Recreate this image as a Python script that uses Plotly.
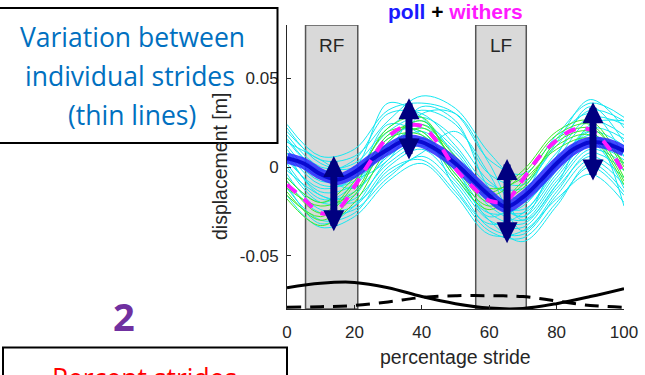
import plotly.graph_objects as go

# ---------------- data ----------------
x_mean = [0, 5, 10, 15, 20, 25, 30, 35, 40, 45, 50, 55, 60, 65, 70, 75, 80, 85, 90, 95, 100]
poll_mean = [0.005, 0.002, -0.004, -0.007, -0.003, 0.004, 0.010, 0.015, 0.014, 0.009, 0.002,
             -0.007, -0.016, -0.0225, -0.017, -0.008, 0.002, 0.010, 0.014, 0.013, 0.009]
withers_mean = [-0.010, -0.018, -0.026, -0.024, -0.011, 0.004, 0.017, 0.023, 0.023, 0.013, -0.001,
                -0.011, -0.019, -0.019, -0.007, 0.006, 0.015, 0.021, 0.021, 0.012, -0.004]

x_strides = [0, 10, 20, 30, 40, 50, 60, 70, 80, 90, 100]
poll_strides = [
    [0.024, 0.006, 0.010, 0.032, 0.036, 0.030, 0.004, -0.004, 0.018, 0.036, 0.028],
    [0.020, 0.004, 0.006, 0.026, 0.040, 0.033, 0.008, -0.008, 0.012, 0.032, 0.026],
    [0.018, 0.000, 0.002, 0.022, 0.032, 0.024, -0.004, -0.010, 0.014, 0.038, 0.022],
    [0.015, -0.002, 0.004, 0.030, 0.030, 0.012, -0.010, -0.012, 0.008, 0.028, 0.024],
    [0.012, -0.006, -0.002, 0.020, 0.028, 0.016, -0.008, -0.018, 0.004, 0.026, 0.018],
    [0.010, -0.008, -0.004, 0.016, 0.024, 0.010, -0.014, -0.020, 0.000, 0.022, 0.016],
    [0.008, -0.010, -0.008, 0.014, 0.026, 0.006, -0.018, -0.024, -0.002, 0.020, 0.012],
    [0.006, -0.014, -0.010, 0.010, 0.020, 0.004, -0.020, -0.026, -0.004, 0.016, 0.010],
    [0.004, -0.012, -0.006, 0.024, 0.018, -0.006, -0.026, -0.022, 0.002, 0.018, 0.006],
    [0.002, -0.018, -0.014, 0.006, 0.016, 0.002, -0.022, -0.030, -0.008, 0.012, 0.004],
    [0.000, -0.020, -0.018, 0.002, 0.012, -0.002, -0.026, -0.032, -0.010, 0.010, 0.002],
    [-0.002, -0.016, -0.020, -0.004, 0.008, 0.020, -0.004, -0.036, -0.014, 0.008, -0.002],
    [-0.004, -0.024, -0.022, 0.000, 0.010, -0.008, -0.030, -0.034, -0.012, 0.006, -0.006],
    [-0.008, -0.026, -0.024, -0.006, 0.006, -0.010, -0.034, -0.038, -0.016, 0.004, -0.010],
    [-0.012, -0.030, -0.026, -0.002, 0.004, -0.014, -0.036, -0.040, -0.020, 0.000, -0.016],
    [-0.016, -0.034, -0.028, -0.008, 0.002, -0.016, -0.038, -0.036, -0.018, -0.004, -0.020],
    [0.022, 0.002, 0.000, 0.036, 0.028, 0.000, -0.028, -0.016, 0.016, 0.030, 0.006],
    [0.014, 0.004, -0.006, 0.004, 0.030, 0.030, 0.002, -0.030, -0.010, 0.024, 0.026],
    [0.016, -0.004, -0.012, 0.008, 0.034, 0.026, -0.012, -0.028, 0.006, 0.034, 0.014],
    [-0.006, -0.020, -0.010, 0.012, 0.022, 0.008, -0.016, -0.028, -0.006, 0.014, -0.012],
    [0.008, -0.016, -0.016, 0.018, 0.020, -0.012, -0.032, -0.026, 0.000, 0.020, -0.022],
    [-0.010, -0.032, -0.022, 0.004, 0.014, -0.004, -0.030, -0.042, -0.022, 0.002, -0.014],
]
withers_strides = [
    [-0.014, -0.030, -0.016, 0.014, 0.026, 0.002, -0.016, -0.004, 0.018, 0.024, -0.002],
    [-0.006, -0.020, -0.006, 0.020, 0.020, -0.004, -0.022, -0.010, 0.012, 0.018, -0.008],
    [-0.018, -0.033, -0.020, 0.010, 0.022, 0.004, -0.014, -0.002, 0.020, 0.026, 0.000],
    [-0.008, -0.026, -0.008, 0.022, 0.028, 0.000, -0.020, -0.012, 0.014, 0.020, -0.006],
    [-0.012, -0.022, -0.014, 0.016, 0.018, -0.006, -0.024, -0.008, 0.010, 0.016, -0.010],
    [-0.016, -0.028, -0.010, 0.018, 0.024, 0.006, -0.012, -0.006, 0.016, 0.022, 0.002],
]

x_bottom = [0, 10, 20, 30, 40, 50, 60, 70, 80, 90, 100]
bottom_solid = [-0.068, -0.0655, -0.065, -0.068, -0.073, -0.077, -0.0795, -0.0797, -0.077, -0.073, -0.0685]
bottom_dashed = [-0.079, -0.0787, -0.078, -0.076, -0.0735, -0.0725, -0.0725, -0.073, -0.0755, -0.078, -0.079]

stance_labels = ["RF", "LF"]
stance_start = [5.5, 56]
stance_end = [21, 71]

arrow_x = [13.9, 36.2, 65.3, 90.8]
arrow_low = [-0.037, 0.0034, -0.0438, -0.0084]
arrow_high = [0.0062, 0.0388, 0.0045, 0.0365]

x_ticks = [0, 20, 40, 60, 80, 100]
y_ticks = [-0.05, 0, 0.05]
y_ticklabels = ["-0.05", "0", "0.05"]

# ---------------- layout geometry ----------------
W, H = 645, 375
L, R, T, B = 287, 21, 25, 66
PW, PH = W - L - R, H - T - B


def px2x(px):
    return (px - L) / PW


def py2y(py):
    return (H - B - py) / PH


fig = go.Figure()

for ys in poll_strides:
    fig.add_trace(go.Scatter(x=x_strides, y=ys, mode="lines",
                             line=dict(color="rgb(20,232,242)", width=1, shape="spline", smoothing=1.0),
                             hoverinfo="skip", showlegend=False))
for ys in withers_strides:
    fig.add_trace(go.Scatter(x=x_strides, y=ys, mode="lines",
                             line=dict(color="rgb(60,235,40)", width=1, shape="spline", smoothing=1.0),
                             hoverinfo="skip", showlegend=False))

fig.add_trace(go.Scatter(x=x_mean, y=poll_mean, mode="lines",
                         line=dict(color="rgba(40,40,255,0.85)", width=11, shape="spline"),
                         showlegend=False))
fig.add_trace(go.Scatter(x=x_mean, y=poll_mean, mode="lines",
                         line=dict(color="#0a0ad0", width=4, shape="spline"),
                         showlegend=False))
fig.add_trace(go.Scatter(x=x_mean, y=withers_mean, mode="lines",
                         line=dict(color="#ff1aff", width=4, shape="spline", dash="12px,10px"),
                         showlegend=False))

fig.add_trace(go.Scatter(x=x_bottom, y=bottom_solid, mode="lines",
                         line=dict(color="black", width=3, shape="spline"), showlegend=False))
fig.add_trace(go.Scatter(x=x_bottom, y=bottom_dashed, mode="lines",
                         line=dict(color="black", width=3, shape="spline", dash="14px,9px"),
                         showlegend=False))

shapes = []
for s0, s1 in zip(stance_start, stance_end):
    shapes.append(dict(type="rect", xref="x", yref="y", x0=s0, x1=s1, y0=-0.08, y1=0.08,
                       fillcolor="#d9d9d9", line=dict(color="#555555", width=1.5), layer="below"))
# text boxes
shapes.append(dict(type="rect", xref="paper", yref="paper",
                   x0=px2x(-5), x1=px2x(277.5), y0=py2y(143), y1=py2y(8),
                   line=dict(color="black", width=2), fillcolor="rgba(0,0,0,0)"))
shapes.append(dict(type="rect", xref="paper", yref="paper",
                   x0=px2x(3), x1=px2x(287), y0=py2y(400), y1=py2y(347.5),
                   line=dict(color="black", width=2), fillcolor="rgba(0,0,0,0)"))

annotations = []
for lab, s0, s1 in zip(stance_labels, stance_start, stance_end):
    annotations.append(dict(x=(s0 + s1) / 2, y=py2y(45), xref="x", yref="paper", text=lab,
                            xanchor="center", yanchor="middle",
                            showarrow=False, font=dict(family="Liberation Sans", size=19, color="#262626")))

for ax_, lo, hi in zip(arrow_x, arrow_low, arrow_high):
    annotations.append(dict(x=ax_, y=hi, ax=ax_, ay=lo, xref="x", yref="y", axref="x", ayref="y",
                            text="", showarrow=True, arrowhead=2, startarrowhead=2,
                            arrowside="end+start", arrowwidth=7, arrowsize=0.6, startarrowsize=0.6,
                            arrowcolor="#000080", standoff=0, startstandoff=0))


def paper_text(text, px, py, size, color, family="Liberation Sans", angle=0):
    return dict(x=px2x(px), y=py2y(py), xref="paper", yref="paper", showarrow=False,
                xanchor="center", yanchor="middle", text=text, textangle=angle,
                font=dict(family=family, size=size, color=color))


annotations.append(paper_text("<b><span style='color:#1a1aff'>poll</span> + "
                              "<span style='color:#ff1aff'>withers</span></b>", 455.5, 12, 21, "black"))
annotations.append(paper_text("percentage stride", 455, 357, 19.5, "#262626"))
annotations.append(paper_text("displacement [m]", 220, 167, 19.5, "#262626", angle=-90))

blue_lines = ["Variation between", "individual strides", "(thin lines)"]
blue_y = [37, 76, 115]
blue_x = [132, 130, 132]
for t, yy, xx in zip(blue_lines, blue_y, blue_x):
    annotations.append(paper_text(t, xx, yy, 26.5, "#0070C0", family="Open Sans"))
annotations.append(paper_text("<b>2</b>", 124, 316, 38, "#7030A0", family="Open Sans"))
annotations.append(paper_text("Percent strides", 144, 378, 26.5, "#FF0000", family="Open Sans"))

fig.update_layout(
    width=W, height=H, margin=dict(l=L, r=R, t=T, b=B, pad=0, autoexpand=False),
    paper_bgcolor="white", plot_bgcolor="white",
    shapes=shapes, annotations=annotations, showlegend=False,
    font=dict(family="Liberation Sans", color="#262626"),
)
fig.update_xaxes(range=[0, 100], tickvals=x_ticks, ticks="inside", ticklen=4, tickcolor="#262626",
                 showline=True, linecolor="#262626", linewidth=1, mirror=False, showgrid=False,
                 zeroline=False, tickfont=dict(size=17, color="#262626"), ticklabelstandoff=8)
fig.update_yaxes(range=[-0.08, 0.08], tickvals=y_ticks, ticktext=y_ticklabels, ticks="inside",
                 ticklen=4, tickcolor="#262626", showline=True, linecolor="#262626", linewidth=1,
                 mirror=False, showgrid=False, zeroline=False,
                 tickfont=dict(size=17, color="#262626"), ticklabelstandoff=4)

fig.write_html("out.html", config={"displayModeBar": False},
               post_script="document.body.style.margin='0px';document.body.style.overflow='hidden';")
